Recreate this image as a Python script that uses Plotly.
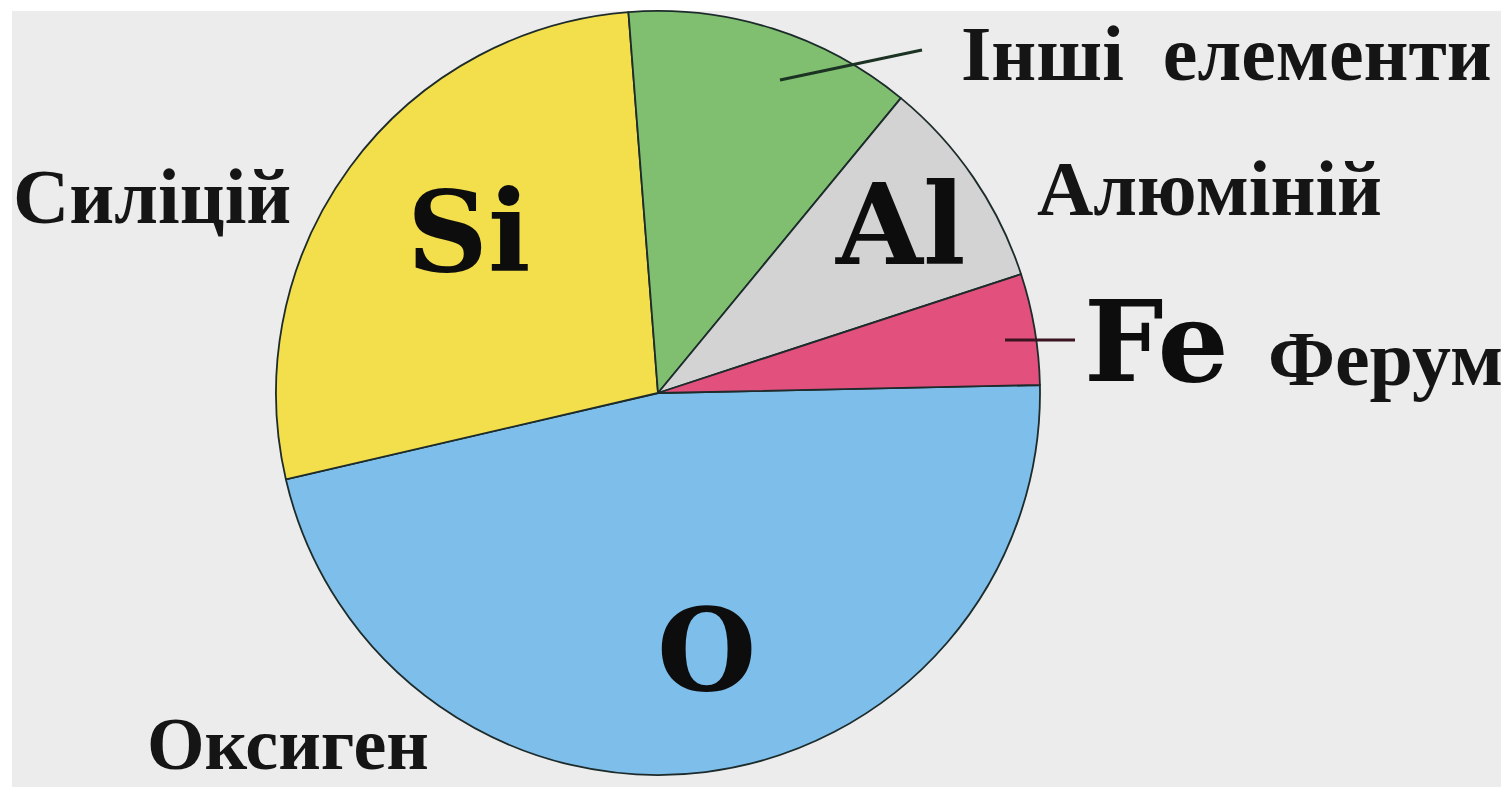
import plotly.graph_objects as go

# Composition of the Earth's crust, percent by mass
elements = ["Оксиген", "Силіцій", "Інші\u00a0 елементи", "Алюміній", "Ферум"]
symbols = ["O", "Si", "", "Al", "Fe"]
percent = [46.7, 27.4, 12.2, 9.0, 4.7]
slice_colors = ["#7dbeeb", "#f3df4c", "#7fbf6f", "#d3d3d3", "#e2507e"]

# the page body keeps its default 8px margin, so the figure sits at (8, 8)
OFF = 8
W, H = 1509 - OFF, 787 - OFF
BG = "#ececec"
NAME_FONT = "Liberation Serif"
SYMBOL_FONT = "DejaVu Serif"

# pie geometry in window pixels
cx, cy, r = 658, 393, 382


def px(x):
    return (x - OFF) / W


def py(y):
    return 1 - (y - OFF) / H


fig = go.Figure(
    go.Pie(
        labels=elements,
        values=percent,
        marker=dict(colors=slice_colors, line=dict(color="#1d2b2b", width=1.8)),
        sort=False,
        direction="clockwise",
        rotation=88.8,
        textinfo="none",
        hoverinfo="label+percent",
        showlegend=False,
        domain=dict(x=[px(cx - r), px(cx + r)], y=[py(cy + r), py(cy - r)]),
    )
)

# placement of the text (window pixel centres) -- layout only
name_pos = {
    "Оксиген": (288, 744),
    "Силіцій": (152, 196),
    "Інші\u00a0 елементи": (1226, 54),
    "Алюміній": (1209, 188),
    "Ферум": (1385, 358),
}
name_size = {"Оксиген": 74}
symbol_pos = {"O": (706, 650), "Si": (468, 232), "Al": (900, 224), "Fe": (1156, 341)}
symbol_size = {"O": 114, "Si": 112, "Al": 112, "Fe": 112}

annotations = []
for name in elements:
    x, y = name_pos[name]
    annotations.append(dict(
        text=name, x=px(x), y=py(y), xref="paper", yref="paper",
        showarrow=False, xanchor="center", yanchor="middle",
        font=dict(family=NAME_FONT, size=name_size.get(name, 78),
                  color="#151515", weight="bold"),
    ))
for sym in symbols:
    if not sym:
        continue
    x, y = symbol_pos[sym]
    annotations.append(dict(
        text=sym, x=px(x), y=py(y), xref="paper", yref="paper",
        showarrow=False, xanchor="center", yanchor="middle",
        font=dict(family=SYMBOL_FONT, size=symbol_size[sym],
                  color="#0d0d0d", weight="bold"),
    ))

shapes = [
    # white scan border along the top and left
    dict(type="rect", xref="paper", yref="paper", x0=0, x1=1, y0=py(11), y1=1,
         fillcolor="white", line_width=0, layer="below"),
    dict(type="rect", xref="paper", yref="paper", x0=0, x1=px(12), y0=0, y1=1,
         fillcolor="white", line_width=0, layer="below"),
    # leader lines
    dict(type="line", xref="paper", yref="paper", x0=px(780), y0=py(80),
         x1=px(922), y1=py(50), line=dict(color="#1c3324", width=3)),
    dict(type="line", xref="paper", yref="paper", x0=px(1005), y0=py(340),
         x1=px(1075), y1=py(340), line=dict(color="#3a1420", width=3)),
]

fig.update_layout(
    width=W,
    height=H,
    margin=dict(l=0, r=0, t=0, b=0),
    paper_bgcolor=BG,
    plot_bgcolor=BG,
    annotations=annotations,
    shapes=shapes,
)

fig.write_html("out.html")
